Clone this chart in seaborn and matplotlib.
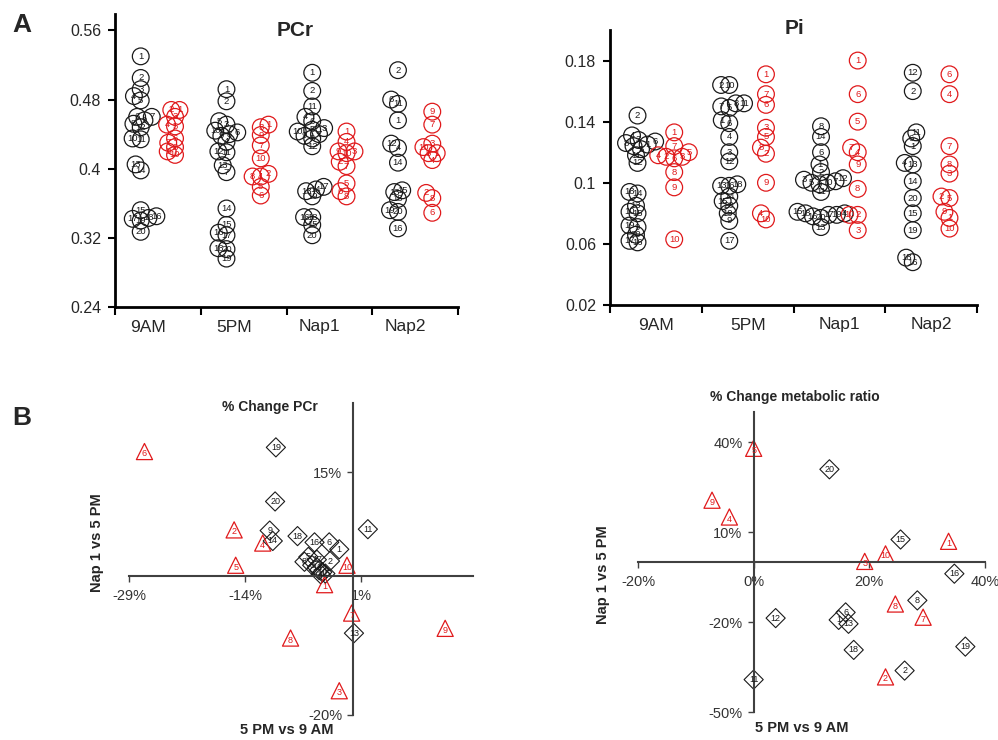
import numpy as np
import pandas as pd
import matplotlib
matplotlib.use("Agg")
import matplotlib.pyplot as plt
import matplotlib.transforms as mtransforms
import seaborn as sns

# ---- data ----
times = ["9AM", "5PM", "Nap1", "Nap2"]
ctrl_ids = list(range(1, 21))
pt_ids = list(range(1, 11))
nap2_ctrl_ids = [1, 2, 4, 6, 11, 12, 13, 14, 15, 16, 18, 19, 20]

# PCr, controls (black) and patients (red)
pcr_ctrl_9am = [0.530, 0.505, 0.492, 0.484, 0.479, 0.460, 0.460, 0.452, 0.456, 0.435,
                0.434, 0.448, 0.405, 0.398, 0.352, 0.345, 0.342, 0.343, 0.340, 0.327]
pcr_ctrl_5pm = [0.492, 0.478, 0.451, 0.431, 0.455, 0.442, 0.396, 0.440, 0.438, 0.444,
                0.419, 0.420, 0.404, 0.354, 0.335, 0.326, 0.323, 0.308, 0.296, 0.307]
pcr_ctrl_nap1 = [0.511, 0.490, 0.447, 0.460, 0.445, 0.455, 0.440, 0.435, 0.438, 0.443,
                 0.472, 0.426, 0.374, 0.376, 0.335, 0.344, 0.379, 0.344, 0.368, 0.323]
pcr_ctrl_nap2 = [0.456, 0.514, 0.424, 0.480, 0.475, 0.429, 0.373, 0.407, 0.375, 0.331,
                 0.365, 0.352, 0.350]
pcr_pt_9am = [0.468, 0.468, 0.460, 0.451, 0.449, 0.435, 0.430, 0.425, 0.420, 0.416]
pcr_pt_5pm = [0.451, 0.394, 0.448, 0.391, 0.379, 0.369, 0.427, 0.391, 0.439, 0.412]
pcr_pt_nap1 = [0.443, 0.408, 0.420, 0.431, 0.383, 0.374, 0.403, 0.368, 0.420, 0.418]
pcr_pt_nap2 = [0.418, 0.372, 0.429, 0.410, 0.418, 0.349, 0.451, 0.366, 0.466, 0.425]

# Pi
pi_ctrl_9am = [0.125, 0.144, 0.128, 0.131, 0.122, 0.127, 0.124, 0.126, 0.071, 0.081,
               0.118, 0.113, 0.085, 0.093, 0.080, 0.061, 0.062, 0.094, 0.072, 0.066]
pi_ctrl_5pm = [0.141, 0.164, 0.120, 0.130, 0.149, 0.139, 0.150, 0.152, 0.075, 0.164,
               0.152, 0.114, 0.098, 0.091, 0.088, 0.098, 0.062, 0.099, 0.080, 0.085]
pi_ctrl_nap1 = [0.112, 0.107, 0.102, 0.080, 0.100, 0.120, 0.101, 0.137, 0.099, 0.100,
                0.094, 0.103, 0.071, 0.130, 0.081, 0.078, 0.079, 0.080, 0.079, 0.077]
pi_ctrl_nap2 = [0.124, 0.160, 0.113, 0.129, 0.133, 0.172, 0.112, 0.101, 0.080, 0.048,
                0.051, 0.069, 0.090]
pi_pt_9am = [0.133, 0.117, 0.117, 0.118, 0.120, 0.116, 0.124, 0.107, 0.097, 0.063]
pi_pt_5pm = [0.171, 0.119, 0.136, 0.080, 0.130, 0.151, 0.158, 0.123, 0.100, 0.076]
pi_pt_nap1 = [0.180, 0.079, 0.069, 0.120, 0.140, 0.158, 0.123, 0.096, 0.112, 0.079]
pi_pt_nap2 = [0.077, 0.091, 0.106, 0.158, 0.090, 0.171, 0.124, 0.112, 0.081, 0.070]

# % change PCr: x = 5 PM vs 9 AM, y = Nap 1 vs 5 PM
pcr_chg_ctrl_x = [-1.8, -3.0, -5.3, -4.2, -5.8, -3.1, -4.4, -6.3, -10.8, -4.0,
                  1.9, -4.7, 0.1, -10.4, -3.6, -5.0, -4.7, -7.2, -10.0, -10.1]
pcr_chg_ctrl_y = [3.9, 2.2, 1.6, 0.3, 2.8, 4.9, 0.9, 2.1, 6.6, 0.6,
                  6.8, 1.3, -8.2, 5.1, 0.4, 4.9, 2.4, 5.8, 18.6, 10.8]
pcr_chg_pt_x = [-3.7, -15.4, -1.8, -11.7, -15.2, -27.0, -0.2, -8.1, 11.9, -0.8]
pcr_chg_pt_y = [-1.2, 6.7, -16.5, 4.8, 1.6, 18.0, -5.3, -8.9, -7.5, 1.6]

# % change metabolic ratio
mr_ctrl_ids = [1, 2, 6, 8, 11, 12, 13, 15, 16, 18, 19, 20]
mr_ctrl_x = [14.7, 26.1, 15.9, 28.3, 0.0, 3.8, 16.4, 25.4, 34.7, 17.3, 36.6, 13.1]
mr_ctrl_y = [-19.3, -36.2, -16.8, -12.8, -39.2, -18.7, -20.6, 7.5, -3.9, -29.3, -28.2, 30.9]
mr_pt_ids = [1, 2, 3, 4, 5, 7, 8, 9, 10]
mr_pt_x = [33.7, 22.8, 19.2, -4.2, 0.0, 29.3, 24.5, -7.2, 22.8]
mr_pt_y = [6.9, -38.3, 0.2, 15.0, 37.9, -18.4, -14.0, 20.6, 2.7]

BLACK = "#1a1a1a"
RED = "#e0191b"
AXIS = "#404040"

sns.set_theme(style="ticks")
plt.rcParams["font.family"] = ["Liberation Sans", "DejaVu Sans"]

fig = plt.figure(figsize=(9.98, 7.40), dpi=100)


def px_box(left, top, right, bottom):
    W, H = 998, 740
    return [left / W, 1 - bottom / H, (right - left) / W, (bottom - top) / H]


def build_long(ctrl_lists, pt_lists):
    frames = []
    for t, vals in zip(times, ctrl_lists):
        ids = nap2_ctrl_ids if t == "Nap2" else ctrl_ids
        frames.append(pd.DataFrame({"time": t, "group": "ctrl", "subject": ids, "value": vals}))
    for t, vals in zip(times, pt_lists):
        frames.append(pd.DataFrame({"time": t, "group": "pt", "subject": pt_ids, "value": vals}))
    return pd.concat(frames, ignore_index=True)


def swarm_panel(ax, df, ylim, yticks, label_shift):
    ax.set_ylim(*ylim)
    # swarm with smaller dots so the circles overlap like in the original
    sns.swarmplot(data=df, x="time", y="value", hue="group", order=times,
                  hue_order=["ctrl", "pt"], palette={"ctrl": BLACK, "pt": RED},
                  dodge=True, size=5.6, legend=False, ax=ax)
    ax.set_xlim(-0.5, 3.5)
    ax.set_ylim(*ylim)
    fig.canvas.draw()

    # turn the swarmed dots into numbered open circles
    used = set()
    for coll in ax.collections:
        xy = np.asarray(coll.get_offsets(), dtype=float)
        if len(xy) == 0:
            continue
        grp = "pt" if coll.get_facecolors()[0][0] > 0.5 else "ctrl"
        col = RED if grp == "pt" else BLACK
        t = times[int(np.clip(np.round(np.median(xy[:, 0])), 0, 3))]
        coll.__dict__.pop("draw", None)
        coll.set_facecolor("none")
        coll.set_edgecolor(col)
        coll.set_linewidth(0.9)
        coll.set_sizes([145])
        sub = df[(df["time"] == t) & (df["group"] == grp)]
        for x, y in xy:
            free = sub[~sub.index.isin(list(used))]
            if free.empty:
                continue
            i = (free["value"] - y).abs().idxmin()
            used.add(i)
            ax.text(x, y, str(df.at[i, "subject"]), ha="center", va="center",
                    fontsize=6.8, color=col)

    ax.set_xlabel("")
    ax.set_ylabel("")
    sns.despine(ax=ax)
    for s in ["left", "bottom"]:
        ax.spines[s].set_linewidth(2)
        ax.spines[s].set_color("black")
    ax.set_yticks(yticks)
    ax.set_yticklabels([f"{v:g}" for v in yticks], fontsize=11.5)
    ax.set_xticks(np.arange(-0.5, 4, 1.0))
    ax.set_xticklabels([])
    ax.set_xticks(range(4), minor=True)
    ax.set_xticklabels(times, minor=True, fontsize=12.5)
    ax.tick_params(axis="x", which="minor", length=0, pad=9)
    ax.tick_params(axis="x", which="major", length=6, width=1.5, color="black")
    ax.tick_params(axis="y", length=5, width=1.5, color="black", pad=5)
    shift = mtransforms.ScaledTranslation(label_shift / 100, 0, fig.dpi_scale_trans)
    for lab in ax.get_xticklabels(minor=True):
        lab.set_transform(lab.get_transform() + shift)


def change_panel(ax, cids, cx, cy, pids, ppx, ppy, xlim, ylim, xticks, yticks):
    sns.scatterplot(x=cx, y=cy, marker="D", s=95, ax=ax)
    pts = ax.collections[-1]
    pts.set_facecolor("none")
    pts.set_edgecolor(BLACK)
    pts.set_linewidth(0.8)
    sns.scatterplot(x=ppx, y=ppy, marker="^", s=135, ax=ax)
    pts = ax.collections[-1]
    pts.set_facecolor("none")
    pts.set_edgecolor(RED)
    pts.set_linewidth(0.9)
    for i, x, y in zip(cids, cx, cy):
        ax.text(x, y, str(i), ha="center", va="center", fontsize=6.5, color=BLACK)
    down = mtransforms.offset_copy(ax.transData, fig=fig, y=-1.5, units="points")
    for i, x, y in zip(pids, ppx, ppy):
        ax.text(x, y, str(i), ha="center", va="center", fontsize=6.5, color=RED,
                transform=down)
    ax.set_xlim(*xlim)
    ax.set_ylim(*ylim)
    for s in ["top", "right"]:
        ax.spines[s].set_visible(False)
    ax.spines["left"].set_position(("data", 0))
    ax.spines["bottom"].set_position(("data", 0))
    for s in ["left", "bottom"]:
        ax.spines[s].set_color(AXIS)
        ax.spines[s].set_linewidth(1.5)
    ax.set_xticks(xticks)
    ax.set_xticklabels([f"{v}%" for v in xticks])
    ax.set_yticks(yticks)
    ax.set_yticklabels([f"{v}%" for v in yticks])
    ax.tick_params(length=4, width=1, color=AXIS, labelsize=10.5, labelcolor="#333333")
    ax.tick_params(axis="x", pad=5)
    ax.tick_params(axis="y", pad=4)


# ---- A: PCr and Pi ----
ax_pcr = fig.add_axes(px_box(115, 14, 458, 307))
pcr_df = build_long([pcr_ctrl_9am, pcr_ctrl_5pm, pcr_ctrl_nap1, pcr_ctrl_nap2],
                    [pcr_pt_9am, pcr_pt_5pm, pcr_pt_nap1, pcr_pt_nap2])
swarm_panel(ax_pcr, pcr_df, (0.24, 0.579), [0.24, 0.32, 0.40, 0.48, 0.56], -10)

ax_pi = fig.add_axes(px_box(610, 30, 977, 305))
pi_df = build_long([pi_ctrl_9am, pi_ctrl_5pm, pi_ctrl_nap1, pi_ctrl_nap2],
                   [pi_pt_9am, pi_pt_5pm, pi_pt_nap1, pi_pt_nap2])
swarm_panel(ax_pi, pi_df, (0.02, 0.20), [0.02, 0.06, 0.10, 0.14, 0.18], 0)

fig.text(295 / 998, 1 - 30 / 740, "PCr", ha="center", va="center", fontsize=15, weight="bold")
fig.text(795 / 998, 1 - 28 / 740, "Pi", ha="center", va="center", fontsize=15, weight="bold")

# ---- B: % change ----
ax_c1 = fig.add_axes(px_box(129, 403, 473, 715))
change_panel(ax_c1, ctrl_ids, pcr_chg_ctrl_x, pcr_chg_ctrl_y, pt_ids, pcr_chg_pt_x, pcr_chg_pt_y,
             (-29, 15.5), (-20, 25), [-29, -14, 1], [-20, 15])

ax_c2 = fig.add_axes(px_box(638, 412, 985, 712))
change_panel(ax_c2, mr_ctrl_ids, mr_ctrl_x, mr_ctrl_y, mr_pt_ids, mr_pt_x, mr_pt_y,
             (-20, 40), (-50, 50), [-20, 0, 20, 40], [-50, -20, 10, 40])

fig.text(270 / 998, 1 - 407 / 740, "% Change PCr", ha="center", va="center", fontsize=10, weight="bold")
fig.text(795 / 998, 1 - 397 / 740, "% Change metabolic ratio", ha="center", va="center",
         fontsize=10, weight="bold")
fig.text(97 / 998, 1 - 543 / 740, "Nap 1 vs 5 PM", rotation=90, ha="center", va="center",
         fontsize=10.5, weight="bold")
fig.text(603 / 998, 1 - 575 / 740, "Nap 1 vs 5 PM", rotation=90, ha="center", va="center",
         fontsize=10.5, weight="bold")
fig.text(287 / 998, 1 - 730 / 740, "5 PM vs 9 AM", ha="center", va="center", fontsize=10.5, weight="bold")
fig.text(802 / 998, 1 - 728 / 740, "5 PM vs 9 AM", ha="center", va="center", fontsize=10.5, weight="bold")

fig.text(22 / 998, 1 - 25 / 740, "A", ha="center", va="center", fontsize=19, weight="bold")
fig.text(22 / 998, 1 - 418 / 740, "B", ha="center", va="center", fontsize=19, weight="bold")

fig.savefig("out.png", dpi=100)
